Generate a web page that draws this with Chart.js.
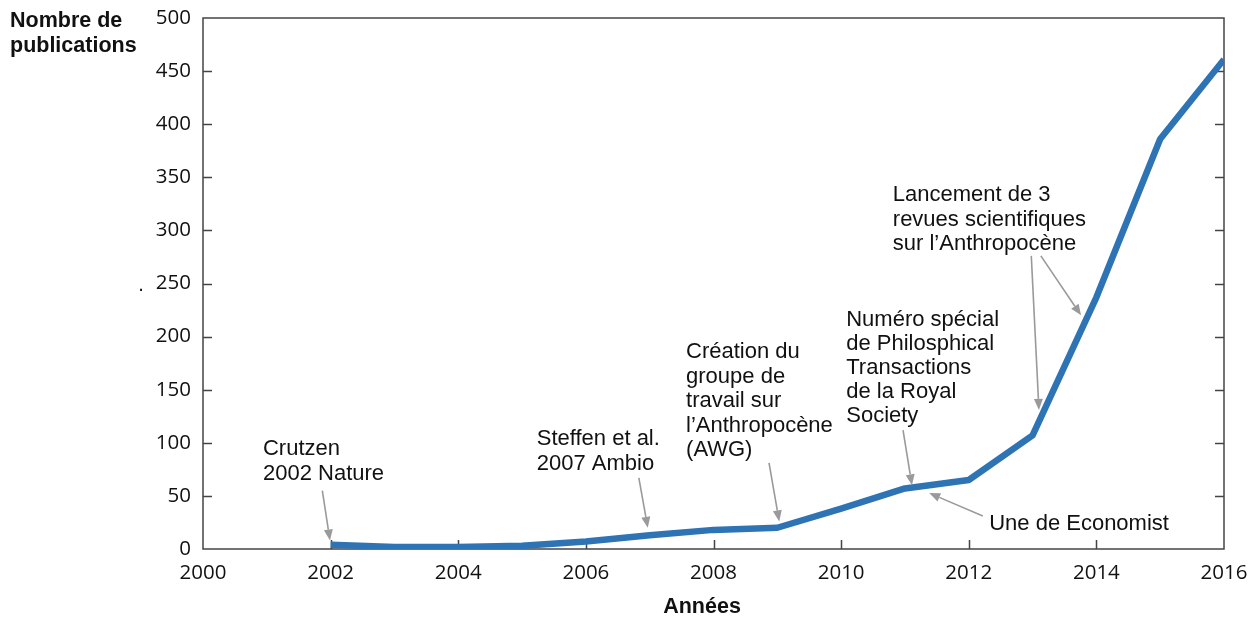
<!DOCTYPE html>
<html>
<head>
<meta charset="utf-8">
<script src="https://cdn.jsdelivr.net/npm/chart.js@4"></script>
<style>
  html, body { margin: 0; padding: 0; background: #fff; }
  #wrap { width: 1255px; height: 619px; }
</style>
</head>
<body>
<div id="wrap"><canvas id="pubChart" width="1255" height="619"></canvas></div>
<script>
// data
const years = [2002, 2003, 2004, 2005, 2006, 2007, 2008, 2009, 2010, 2011, 2012, 2013, 2014, 2015, 2016];
const publications = [4, 2, 2, 3, 7, 13, 18, 20, 38, 57, 65, 107, 237, 386, 461];
const yTicks = [0, 50, 100, 150, 200, 250, 300, 350, 400, 450, 500];
const xTicks = [2000, 2002, 2004, 2006, 2008, 2010, 2012, 2014, 2016];

// notes: text anchor + arrows, in data units (year, count)
const notes = [
  { lines: ['Crutzen', '2002 Nature'], at: [2000.94, 94], lh: 25,
    arrows: [[[2001.87, 55], [2001.99, 8]]] },
  { lines: ['Steffen et al.', '2007 Ambio'], at: [2005.23, 103.5], lh: 25,
    arrows: [[[2006.83, 67], [2006.97, 20]]] },
  { lines: ['Création du', 'groupe de', 'travail sur', 'l\u2019Anthropocène', '(AWG)'], at: [2007.57, 185.5], lh: 24.5,
    arrows: [[[2008.87, 81], [2009.03, 26]]] },
  { lines: ['Numéro spécial', 'de Philosphical', 'Transactions', 'de la Royal', 'Society'], at: [2010.08, 215.5], lh: 24,
    arrows: [[[2010.97, 112], [2011.11, 60]]] },
  { lines: ['Une de Economist'], at: [2012.32, 24], lh: 24,
    arrows: [[[2012.22, 31], [2011.38, 52.7]]] },
  { lines: ['Lancement de 3', 'revues scientifiques', 'sur l\u2019Anthropocène'], at: [2010.81, 333.3], lh: 24.5,
    arrows: [[[2012.98, 276], [2013.10, 131]], [[2013.13, 276], [2013.76, 220]]] }
];

const lineColor = '#2e74b4';
const axisColor = '#444';
const arrowColor = '#9a9a9a';

function arrow(ctx, x1, y1, x2, y2) {
  const ang = Math.atan2(y2 - y1, x2 - x1);
  const head = 11, half = 4.5;
  const bx = x2 - head * Math.cos(ang), by = y2 - head * Math.sin(ang);
  ctx.beginPath();
  ctx.moveTo(x1, y1);
  ctx.lineTo(bx, by);
  ctx.stroke();
  ctx.beginPath();
  ctx.moveTo(x2, y2);
  ctx.lineTo(bx + half * Math.sin(ang), by - half * Math.cos(ang));
  ctx.lineTo(bx - half * Math.sin(ang), by + half * Math.cos(ang));
  ctx.closePath();
  ctx.fill();
}

const frame = {
  id: 'frame',
  beforeDatasetsDraw(chart) {
    const { ctx, chartArea: a, scales: { x, y } } = chart;
    ctx.save();
    ctx.strokeStyle = axisColor;
    ctx.lineWidth = 1.5;
    ctx.strokeRect(a.left, a.top, a.right - a.left, a.bottom - a.top);
    ctx.beginPath();
    yTicks.forEach(v => {
      const py = Math.round(y.getPixelForValue(v)) + 0.5;
      if (v === 0 || v === 500) return;
      ctx.moveTo(a.left, py); ctx.lineTo(a.left + 9, py);
      ctx.moveTo(a.right, py); ctx.lineTo(a.right - 9, py);
    });
    xTicks.forEach(v => {
      const px = Math.round(x.getPixelForValue(v)) + 0.5;
      if (v === 2000 || v === 2016) return;
      ctx.moveTo(px, a.bottom); ctx.lineTo(px, a.bottom - 9);
    });
    ctx.stroke();
    ctx.restore();
  },
  afterDraw(chart) {
    const { ctx, scales: { x, y } } = chart;
    ctx.save();
    ctx.fillStyle = '#111';
    ctx.font = '22px "Liberation Sans", Arial, sans-serif';
    ctx.textBaseline = 'middle';
    ctx.textAlign = 'left';
    notes.forEach(n => {
      const tx = x.getPixelForValue(n.at[0]);
      const ty = y.getPixelForValue(n.at[1]);
      n.lines.forEach((s, i) => ctx.fillText(s, tx, ty + i * n.lh));
    });
    ctx.strokeStyle = arrowColor;
    ctx.fillStyle = arrowColor;
    ctx.lineWidth = 1.6;
    notes.forEach(n => n.arrows.forEach(([p, q]) => {
      arrow(ctx, x.getPixelForValue(p[0]), y.getPixelForValue(p[1]),
                 x.getPixelForValue(q[0]), y.getPixelForValue(q[1]));
    }));
    // axis titles
    ctx.fillStyle = '#111';
    ctx.font = 'bold 21.5px "Liberation Sans", Arial, sans-serif';
    ctx.textAlign = 'left';
    ctx.fillText('Nombre de', 10, 21);
    ctx.fillText('publications', 10, 46);
    ctx.textAlign = 'center';
    ctx.fillText('Années', 702, 607);
    ctx.font = '20px "Liberation Sans", Arial, sans-serif';
    ctx.fillText('.', 141, 285);
    ctx.restore();
  }
};

const ctx = document.getElementById('pubChart').getContext('2d');
const pubChart = new Chart(ctx, {
  type: 'line',
  data: {
    datasets: [{
      data: years.map((yr, i) => ({ x: yr, y: publications[i] })),
      borderColor: lineColor,
      borderWidth: 6.5,
      borderCapStyle: 'butt',
      borderJoinStyle: 'round',
      pointRadius: 0,
      tension: 0,
      fill: false
    }]
  },
  options: {
    responsive: false,
    animation: false,
    layout: { padding: { top: 18, right: 31, left: 0, bottom: 0 } },
    plugins: { legend: { display: false }, tooltip: { enabled: false } },
    scales: {
      x: {
        type: 'linear',
        min: 2000,
        max: 2016,
        afterBuildTicks: s => { s.ticks = xTicks.map(v => ({ value: v })); },
        afterFit: s => { s.height = 70; s.paddingLeft = 0; s.paddingRight = 0; },
        grid: { display: false, drawTicks: false },
        border: { display: false },
        ticks: {
          padding: 12,
          color: '#111',
          font: { family: '"Open Sans", sans-serif', size: 20.5 },
          callback: v => String(v)
        }
      },
      y: {
        min: 0,
        max: 500,
        afterBuildTicks: s => { s.ticks = yTicks.map(v => ({ value: v })); },
        afterFit: s => { s.width = 203; s.paddingTop = 0; s.paddingBottom = 0; },
        grid: { display: false, drawTicks: false },
        border: { display: false },
        ticks: {
          padding: 12,
          color: '#111',
          font: { family: '"Open Sans", sans-serif', size: 20.5 }
        }
      }
    }
  },
  plugins: [frame]
});
</script>
</body>
</html>
